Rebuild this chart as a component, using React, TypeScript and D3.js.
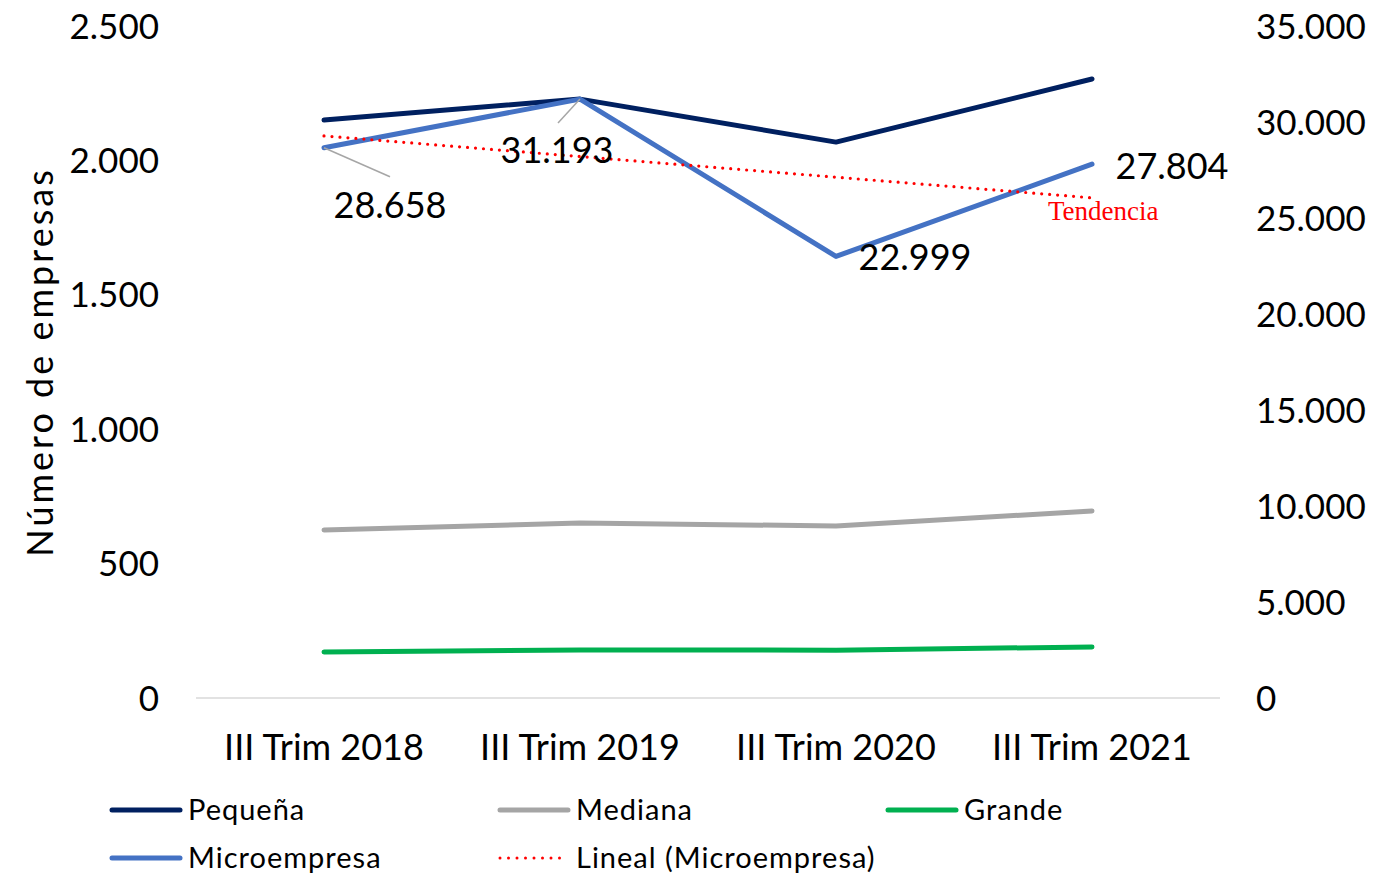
import React from "react";
import * as d3 from "d3";

// categorías y series
const categories = ["III Trim 2018", "III Trim 2019", "III Trim 2020", "III Trim 2021"];
const pequena = [2150, 2228, 2068, 2303];
const mediana = [625, 651, 640, 696];
const grande = [171, 179, 178, 190];
const microempresa = [28658, 31193, 22999, 27804];

const leftTicks = [0, 500, 1000, 1500, 2000, 2500];
const rightTicks = [0, 5000, 10000, 15000, 20000, 25000, 30000, 35000];

const FONT = "'Century Gothic', 'URW Gothic', Lato, sans-serif";

const fmt = (v: number) => d3.format(",")(v).replace(/,/g, ".");

// tendencia lineal (mínimos cuadrados) sobre la serie de microempresas
function linearFit(values: number[]) {
  const xs = values.map((_, i) => i + 1);
  const mx = d3.mean(xs) as number;
  const my = d3.mean(values) as number;
  const sxy = d3.sum(xs, (x, i) => (x - mx) * (values[i] - my));
  const sxx = d3.sum(xs, (x) => (x - mx) ** 2);
  const slope = sxy / sxx;
  return xs.map((x) => my + slope * (x - mx));
}

export default function App() {
  const width = 1393;
  const height = 875;
  const plotLeft = 196, plotRight = 1220, plotTop = 26, plotBottom = 698;

  const x = d3.scaleBand<string>().domain(categories).range([plotLeft, plotRight]);
  const cx = (c: string) => (x(c) as number) + x.bandwidth() / 2;
  const yL = d3.scaleLinear().domain([0, 2500]).range([plotBottom, plotTop]);
  const yR = d3.scaleLinear().domain([0, 35000]).range([plotBottom, plotTop]);

  const lineL = d3.line<number>().x((_, i) => cx(categories[i])).y((d) => yL(d));
  const lineR = d3.line<number>().x((_, i) => cx(categories[i])).y((d) => yR(d));
  const trend = linearFit(microempresa);

  const series = [
    { name: "Pequeña", values: pequena, color: "#002060", path: lineL },
    { name: "Mediana", values: mediana, color: "#A5A5A5", path: lineL },
    { name: "Grande", values: grande, color: "#00B050", path: lineL },
    { name: "Microempresa", values: microempresa, color: "#4472C4", path: lineR },
  ];

  // posiciones de etiquetas de datos (desplazamiento respecto al punto)
  const labelOffsets = [
    { dx: 66, dy: 57, leader: [66, 29] },
    { dx: -23, dy: 51, leader: [-22, 24] },
    { dx: 79, dy: 1, leader: null },
    { dx: 80, dy: 2, leader: null },
  ];

  const legend = [
    { name: "Pequeña", color: "#002060", dotted: false, col: 0, row: 0 },
    { name: "Mediana", color: "#A5A5A5", dotted: false, col: 1, row: 0 },
    { name: "Grande", color: "#00B050", dotted: false, col: 2, row: 0 },
    { name: "Microempresa", color: "#4472C4", dotted: false, col: 0, row: 1 },
    { name: "Lineal (Microempresa)", color: "#FF0000", dotted: true, col: 1, row: 1 },
  ];

  return (
    <svg width={width} height={height} style={{ position: "absolute", left: 0, top: 0, background: "#fff" }} fontFamily={FONT}>
      <line x1={plotLeft} x2={plotRight} y1={plotBottom} y2={plotBottom} stroke="#D9D9D9" strokeWidth={1.5} />

      {leftTicks.map((t) => (
        <text key={"l" + t} x={159} y={yL(t)} dy="0.36em" textAnchor="end" fontSize={35} fill="#000">{fmt(t)}</text>
      ))}
      {rightTicks.map((t) => (
        <text key={"r" + t} x={1256} y={yR(t)} dy="0.36em" textAnchor="start" fontSize={35} fill="#000">{fmt(t)}</text>
      ))}
      {categories.map((c) => (
        <text key={c} x={cx(c)} y={747} dy="0.36em" textAnchor="middle" fontSize={36} fill="#000">{c}</text>
      ))}

      <text transform={`translate(40, ${(plotTop + plotBottom) / 2}) rotate(-90)`} dy="0.36em" textAnchor="middle" fontSize={36} letterSpacing={3} fill="#000">Número de empresas</text>

      {series.map((s) => (
        <path key={s.name} d={s.path(s.values) as string} fill="none" stroke={s.color} strokeWidth={5} strokeLinejoin="round" strokeLinecap="round" />
      ))}

      <path d={lineR(trend) as string} fill="none" stroke="#FF0000" strokeWidth={3.2} strokeDasharray="0 8" strokeLinecap="round" />
      <text x={1048} y={220} fontFamily="'Liberation Serif', 'Times New Roman', serif" fontSize={27} fill="#FF0000">Tendencia</text>

      {microempresa.map((v, i) => {
        const px = cx(categories[i]);
        const py = yR(v);
        const o = labelOffsets[i];
        return (
          <g key={"lab" + i}>
            {o.leader && (
              <line x1={px} y1={py} x2={px + o.leader[0]} y2={py + o.leader[1]} stroke="#A6A6A6" strokeWidth={1.5} />
            )}
            <text x={px + o.dx} y={py + o.dy} dy="0.36em" textAnchor="middle" fontSize={36} fill="#000">{fmt(v)}</text>
          </g>
        );
      })}

      {legend.map((l) => {
        const lx = 112 + l.col * 388;
        const ly = 810 + l.row * 48;
        return (
          <g key={l.name}>
            <line x1={lx} x2={lx + 68} y1={ly} y2={ly} stroke={l.color}
              strokeWidth={l.dotted ? 3 : 5} strokeLinecap="round" strokeDasharray={l.dotted ? "0 8.5" : undefined} />
            <text x={lx + 76} y={ly} dy="0.36em" fontSize={29} letterSpacing={1} fill="#000">{l.name}</text>
          </g>
        );
      })}
    </svg>
  );
}
